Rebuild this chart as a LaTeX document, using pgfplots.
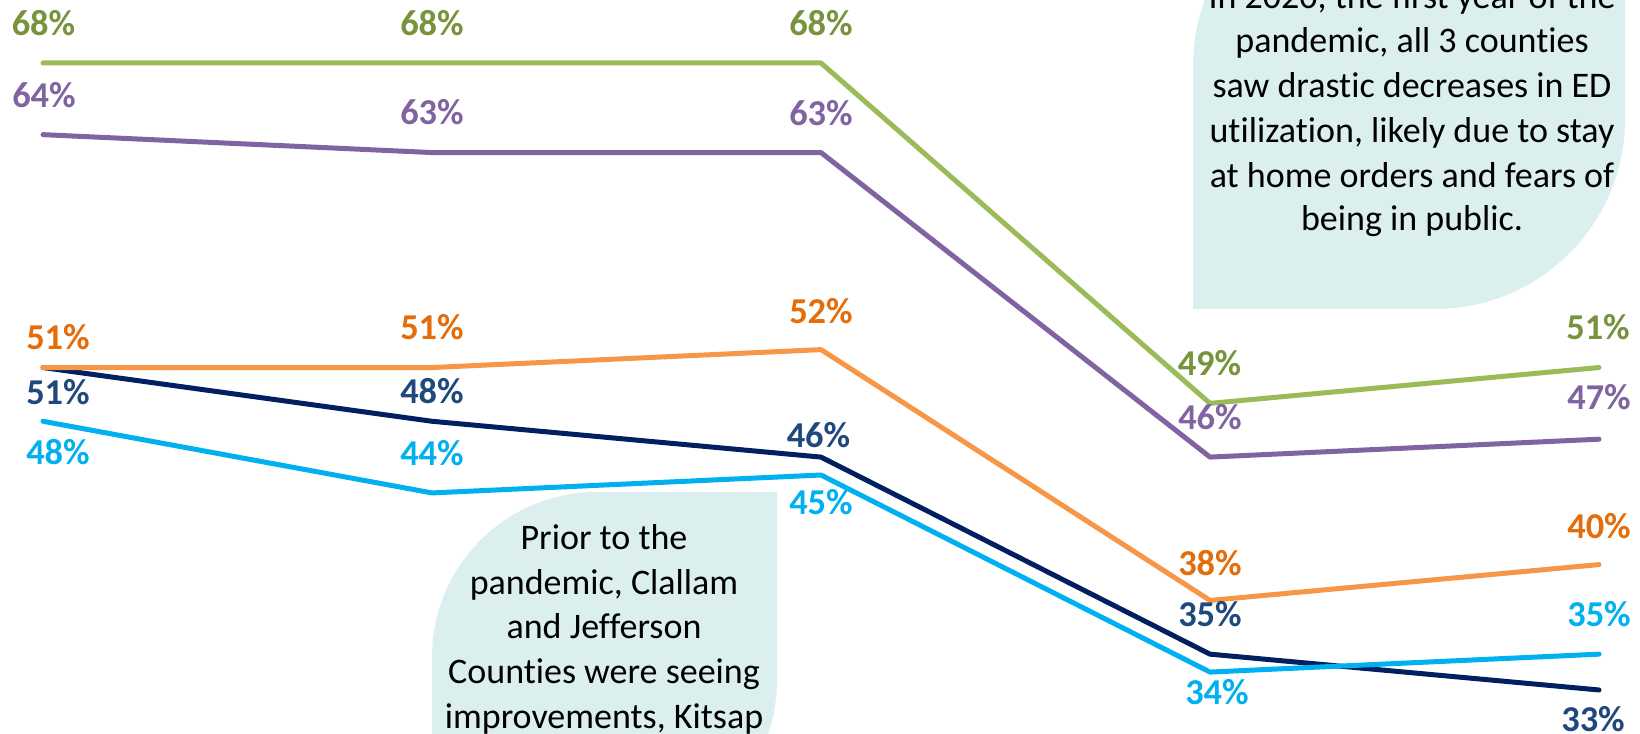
\documentclass[border=0pt]{standalone}
\usepackage{fontspec}
\setmainfont{Carlito}[Ligatures={NoCommon}]
\usepackage{pgfplots}
\usepackage{pgfplotstable}
\pgfplotsset{compat=1.18}
\definecolor{cgreen}{HTML}{9BBB59}
\definecolor{lgreen}{HTML}{77933C}
\definecolor{cpurple}{HTML}{8064A2}
\definecolor{corange}{HTML}{F79646}
\definecolor{lorange}{HTML}{E46C0A}
\definecolor{cnavy}{HTML}{002060}
\definecolor{lnavy}{HTML}{1F497D}
\definecolor{cblue}{HTML}{00B0F0}
\definecolor{callout}{HTML}{DBEFEE}

\pgfplotstableread{
x y dx dy
0 68 0.25 19.75
1 68 0 19.75
2 68 0 20
3 49 -0.25 20.25
4 51 -0.5 20
}\greentab
\pgfplotstableread{
x y dx dy
0 64 0.5 20
1 63 0 20
2 63 0 19.5
3 46 0 20
4 47 0 21
}\purpletab
\pgfplotstableread{
x y dx dy
0 51 7.5 15
1 51 0 20
2 52 0 19.5
3 38 0 18.5
4 40 0 19
}\orangetab
\pgfplotstableread{
x y dx dy
0 51 7.5 -12.25
1 48 0 15
2 46 -1.25 11
3 35 0 20
4 33 -3 -14.5
}\navytab
\pgfplotstableread{
x y dx dy
0 48 7.5 -15.5
1 44 0 20
2 45 0 -13.5
3 34 3.5 -10
4 35 0 20
}\bluetab

\pgfplotsset{
  ser/.style 2 args={line width=2.5bp, line cap=round, line join=round, mark=none, color=#1,
    nodes near coords={\pgfmathprintnumber[assume math mode=true]{\pgfplotspointmeta}\%},
    point meta=y,
    visualization depends on={\thisrow{dx}\as\dx},
    visualization depends on={\thisrow{dy}\as\dy},
    every node near coord/.append style={anchor=center, inner sep=0pt,
      xshift=\dx bp, yshift=\dy bp,
      font=\fontsize{18.2bp}{20bp}\selectfont\bfseries, text=#2}}
}

\newcommand{\ctext}{\fontsize{18bp}{22.3bp}\selectfont}

\begin{document}
\begin{tikzpicture}
\useasboundingbox (0,0) rectangle (820bp,367bp);
\clip (0,0) rectangle (820bp,367bp);
% callout top right
\fill[callout] (596.5bp,212.5bp) -- (596.5bp,334bp) arc[start angle=180, end angle=90, radius=95bp]
  -- (812.5bp,429bp) -- (812.5bp,307.5bp) arc[start angle=0, end angle=-90, radius=95bp] -- cycle;
% callout bottom
\fill[callout] (216bp,-55.5bp) -- (216bp,38.5bp) arc[start angle=180, end angle=90, radius=82.5bp]
  -- (388.5bp,121bp) -- (388.5bp,27bp) arc[start angle=0, end angle=-90, radius=82.5bp] -- cycle;
\begin{scope}[every node/.style={anchor=base, inner sep=0pt, font=\ctext}]
\node at (706bp,362.9bp) {In 2020, the first year of the};
\node at (706bp,340.6bp) {pandemic, all 3 counties};
\node at (706bp,318.1bp) {saw drastic decreases in ED};
\node at (706bp,295.6bp) {utilization, likely due to stay};
\node at (706bp,273.1bp) {at home orders and fears of};
\node at (706bp,251.5bp) {being in public.};
\node at (302bp,92bp) {Prior to the};
\node at (302bp,69.5bp) {pandemic, Clallam};
\node at (302bp,47.8bp) {and Jefferson};
\node at (302bp,25.5bp) {Counties were seeing};
\node at (302bp,3bp) {improvements, Kitsap};
\end{scope}
\begin{axis}[at={(0,0)}, anchor=south west, width=820bp, height=367bp, scale only axis,
  hide axis, clip=false,
  xmin=-0.11054, xmax=4.10540, ymin=30.543, ymax=71.517]
\addplot[ser={cnavy}{lnavy}] table[x=x,y=y] {\navytab};
\addplot[ser={cblue}{cblue}] table[x=x,y=y] {\bluetab};
\addplot[ser={corange}{lorange}] table[x=x,y=y] {\orangetab};
\addplot[ser={cpurple}{cpurple}] table[x=x,y=y] {\purpletab};
\addplot[ser={cgreen}{lgreen}] table[x=x,y=y] {\greentab};
\end{axis}
\end{tikzpicture}
\end{document}
